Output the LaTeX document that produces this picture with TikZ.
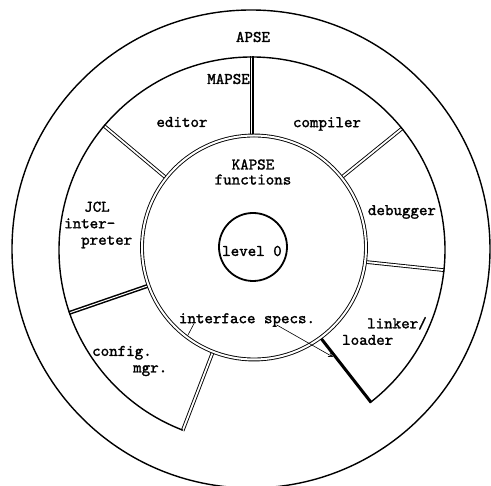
\documentclass[tikz,border=0pt]{standalone}
\usepackage{fontspec}
\newfontfamily\typerfont{lmmono10-regular.otf}[FakeBold=1.6]
\usepackage{tikz}
\usetikzlibrary{arrows.meta}

\begin{document}
\begin{tikzpicture}[x=1pt,y=1pt,
  ring/.style={line width=1.4pt},
  spoke/.style={draw,line width=0.9pt,double=white,double distance=1.8pt},
  heavyspoke/.style={draw,line width=1.5pt,double=white,double distance=1pt},
  lbl/.style={font=\typerfont\bfseries\fontsize{16.2}{16.5}\selectfont,inner sep=0pt,align=center},
  ar/.style={-{Straight Barb[length=4pt,width=4pt]},line width=0.6pt}]
\useasboundingbox (-252,-236) rectangle (239,250);
% spokes between the tools
\foreach \a in {140,39,-6,249}
  \draw[spoke] (\a:100) -- (\a:193.6);
\draw[heavyspoke] (90:100) -- (90:193.6);
\draw[heavyspoke] (199:100) -- (199:193.6);
\draw[line width=3pt] (308:100) -- (308:193.6);
% rings
\draw[ring] (-1,1) circle[radius=239];
\draw[ring] (-52:193) arc[start angle=-52,end angle=249,radius=193];
\draw[line width=0.9pt,double=white,double distance=2pt,fill=white] (2,2.5) circle[radius=112];
\draw[line width=1.8pt] (1,3) circle[radius=34];
% labels
\node[lbl] (apse) at (1,213) {APSE};
\node[lbl,anchor=east] (mapse) at (-2,171) {MAPSE};
\node[lbl] (edit) at (-70,128) {editor};
\node[lbl] (comp) at (75,126) {compiler};
\node[lbl,font=\typerfont\bfseries\fontsize{16.2}{15}\selectfont] (kapse) at (1,78) {KAPSE\\functions};
\node[lbl,align=left,anchor=west] (jcl) at (-188,25) {\hspace{20pt}JCL\\inter-\\\hspace{17pt}preter};
\node[lbl] (debug) at (150,38) {debugger};
\node[lbl] (lvl) at (0,-1) {level 0};
\node[lbl,align=left,anchor=west] (link) at (90,-81) {\hspace{25pt}linker/\\loader};
\node[lbl,align=left,anchor=west] (conf) at (-160,-111) {config.\\\hspace{41pt}mgr.};
\node[lbl] (ispec) at (-5,-70) {interface specs.};
% pointers of the interface specs
\coordinate (specA) at (-64,-85);
\coordinate (specB) at (81,-107);
\draw[line width=0.6pt] ([xshift=15pt,yshift=3pt]ispec.south west) -- (specA);
\draw[ar] ([xshift=98pt,yshift=2pt]ispec.south west) -- (specB);
\end{tikzpicture}
\end{document}
